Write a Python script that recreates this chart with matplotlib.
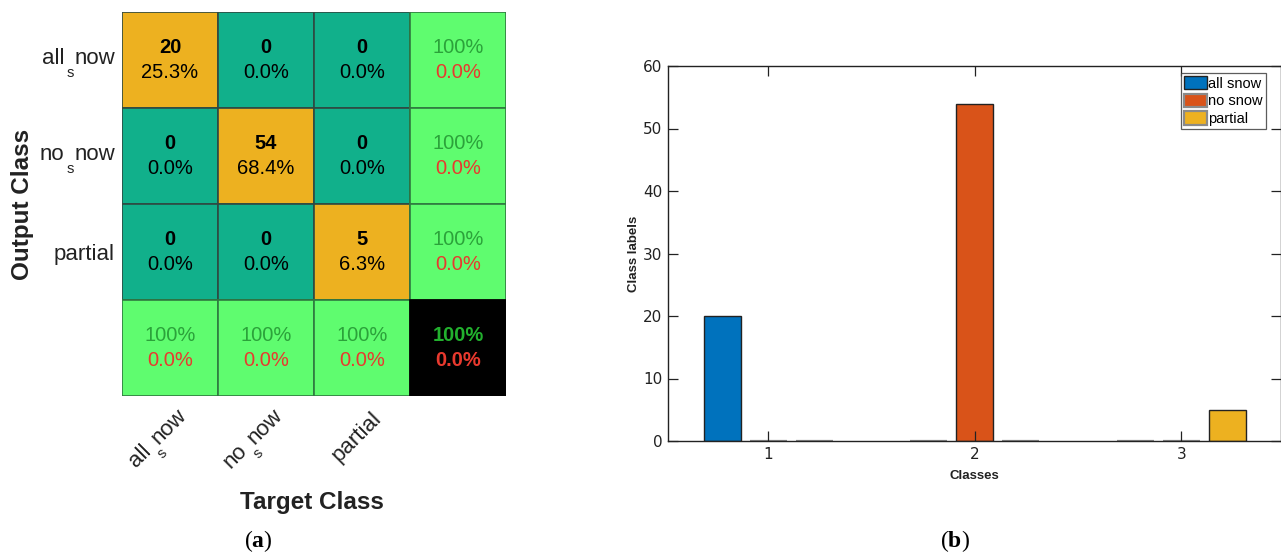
import numpy as np
import matplotlib
matplotlib.use("Agg")
import matplotlib.pyplot as plt
from matplotlib.patches import Rectangle
from matplotlib.transforms import IdentityTransform

# ---- data ----
class_names = ["all_snow", "no_snow", "partial"]
confusion = [[20, 0, 0],
             [0, 54, 0],
             [0, 0, 5]]
series_labels = ["all snow", "no snow", "partial"]
series_all_snow = [20, 0, 0]
series_no_snow = [0, 54, 0]
series_partial = [0, 0, 5]
bar_categories = [1, 2, 3]

plt.rcParams["mathtext.fontset"] = "custom"
plt.rcParams["mathtext.rm"] = "Liberation Serif"
plt.rcParams["mathtext.bf"] = "Liberation Serif:bold"

SANS = ["Liberation Sans", "DejaVu Sans"]

W, H = 1281, 554
DPI = 100
fig = plt.figure(figsize=(W / DPI, H / DPI), dpi=DPI)
renderer = fig.canvas.get_renderer()


def box(x0, y0, x1, y1):
    return [x0 / W, 1 - y1 / H, (x1 - x0) / W, (y1 - y0) / H]


def text_width(s, fs):
    t = fig.text(0, 0, s, fontsize=fs, family=SANS)
    w = t.get_window_extent(renderer).width
    t.remove()
    return w


def sub_label(name, x_img, y_img, theta, fs, color="#222222"):
    """Draw a TeX-style label where '_' puts the next character in subscript.
    (x_img, y_img) is the right end / vertical middle, in pixels from the top-left."""
    if "_" in name:
        a, b = name.split("_", 1)
        parts = [(a, False), (b[0], True), (b[1:], False)]
    else:
        parts = [(name, False)]
    em = fs * DPI / 72
    sub_fs = 0.66 * fs
    gap = 0.1 * em
    drop = 0.58 * em
    has_sub = any(s for _, s in parts)
    widths = [text_width(p, sub_fs if s else fs) for p, s in parts]
    total = sum(widths) + gap * sum(1 for _, s in parts if s)
    top = 0.72 * em
    bottom = -drop if has_sub else -0.21 * em
    mid = 0.5 * (top + bottom)
    th = np.deg2rad(theta)
    u = np.array([np.cos(th), np.sin(th)])
    p = np.array([-np.sin(th), np.cos(th)])
    anchor = np.array([x_img, H - y_img])
    base_end = anchor - mid * p
    start = base_end - total * u
    pos = 0.0
    for (txt, sub), w in zip(parts, widths):
        if sub:
            pos += gap
        xy = start + pos * u - (drop * p if sub else 0)
        fig.text(xy[0], xy[1], txt, transform=IdentityTransform(), ha="left",
                 va="baseline", rotation=theta, rotation_mode="anchor",
                 fontsize=sub_fs if sub else fs, family=SANS, color=color)
        pos += w


# ---- confusion matrix ----
ORANGE = "#EDB120"
TEAL = "#11B08B"
LGREEN = "#5FFC6F"
GTXT = "#2BA23A"
RTXT = "#E8392E"

cm = np.array(confusion)
n = cm.shape[0]
total = cm.sum()

GX0, GY0, CELL = 122, 12, 96
ax = fig.add_axes(box(GX0, GY0, GX0 + CELL * (n + 1), GY0 + CELL * (n + 1)))
ax.set_xlim(0, n + 1)
ax.set_ylim(n + 1, 0)
ax.axis("off")

edge = "#2F4A42"
for r in range(n):
    for c in range(n):
        fc = ORANGE if r == c else TEAL
        ax.add_patch(Rectangle((c, r), 1, 1, facecolor=fc, edgecolor=edge, lw=1.2))
        ax.text(c + 0.5, r + 0.5 - 0.135, f"{cm[r, c]}", ha="center", va="center",
                fontsize=14.5, fontweight="bold", family=SANS, color="black")
        ax.text(c + 0.5, r + 0.5 + 0.135, f"{100 * cm[r, c] / total:.1f}%", ha="center",
                va="center", fontsize=14.5, family=SANS, color="black")

# row summaries (precision) and column summaries (recall)
for r in range(n):
    prec = 100 * cm[r, r] / cm[r, :].sum()
    ax.add_patch(Rectangle((n, r), 1, 1, facecolor=LGREEN, edgecolor="#2F7A40", lw=1.2))
    ax.text(n + 0.5, r + 0.5 - 0.135, f"{prec:.0f}%", ha="center", va="center",
            fontsize=14.5, family=SANS, color=GTXT)
    ax.text(n + 0.5, r + 0.5 + 0.135, f"{100 - prec:.1f}%", ha="center", va="center",
            fontsize=14.5, family=SANS, color=RTXT)
for c in range(n):
    rec = 100 * cm[c, c] / cm[:, c].sum()
    ax.add_patch(Rectangle((c, n), 1, 1, facecolor=LGREEN, edgecolor="#2F7A40", lw=1.2))
    ax.text(c + 0.5, n + 0.5 - 0.135, f"{rec:.0f}%", ha="center", va="center",
            fontsize=14.5, family=SANS, color=GTXT)
    ax.text(c + 0.5, n + 0.5 + 0.135, f"{100 - rec:.1f}%", ha="center", va="center",
            fontsize=14.5, family=SANS, color=RTXT)
acc = 100 * np.trace(cm) / total
ax.add_patch(Rectangle((n, n), 1, 1, facecolor="black", edgecolor="black", lw=1.2))
ax.text(n + 0.5, n + 0.5 - 0.135, f"{acc:.0f}%", ha="center", va="center",
        fontsize=14.5, fontweight="bold", family=SANS, color="#22B02E")
ax.text(n + 0.5, n + 0.5 + 0.135, f"{100 - acc:.1f}%", ha="center", va="center",
        fontsize=14.5, fontweight="bold", family=SANS, color=RTXT)

# class tick labels
for i, name in enumerate(class_names):
    centre = GY0 + CELL * (i + 0.5)
    sub_label(name, GX0 - 7, centre + 2.2, 0, 16)
    centre_x = GX0 + CELL * (i + 0.5)
    sub_label(name, centre_x + 16, GY0 + CELL * (n + 1) + 19, 45, 16)

fig.text(22 / W, 1 - 204 / H, "Output Class", rotation=90, ha="center", va="center",
         fontsize=17.5, fontweight="bold", family=SANS, color="#222222")
fig.text(312 / W, 1 - 502 / H, "Target Class", ha="center", va="center",
         fontsize=17.5, fontweight="bold", family=SANS, color="#222222")

# ---- grouped bar chart ----
bx = fig.add_axes(box(668, 66, 1281.5, 441))
x = np.array(bar_categories, dtype=float)
width = 0.179
offsets = [-0.222, 0.0, 0.222]
colors = ["#0072BD", "#D95319", "#EDB120"]
all_series = [series_all_snow, series_no_snow, series_partial]
for vals, off, col, lab in zip(all_series, offsets, colors, series_labels):
    bars = bx.bar(x + off, vals, width=width, color=col, edgecolor="#222222", lw=1.0, label=lab)
    for b, v in zip(bars, vals):
        if v == 0:
            b.set_edgecolor("#8A8A8A")
            b.set_linewidth(1.6)

bx.set_xlim(0.515, 3.485)
bx.set_ylim(0, 60)
bx.set_xticks(bar_categories)
bx.set_yticks(np.arange(0, 61, 10))
bx.tick_params(direction="in", length=7, width=0.9, top=True, right=True,
               labelsize=11, colors="#222222", pad=4)
for sp in bx.spines.values():
    sp.set_linewidth(1.0)
    sp.set_color("#222222")
bx.set_xlabel("Classes", fontsize=9.5, fontweight="bold", family=SANS, color="#222222",
              labelpad=6)
bx.set_ylabel("Class labels", fontsize=9.5, fontweight="bold", family=SANS, color="#222222",
              labelpad=2)
leg = bx.legend(loc="upper right", bbox_to_anchor=((1266 - 668) / 613.5, (441 - 73) / 375),
                prop={"family": SANS, "size": 10.5},
                fancybox=False, frameon=True, edgecolor="#333333",
                handlelength=1.55, handleheight=1.05, handletextpad=0.1,
                labelspacing=0.2, borderpad=0.2, borderaxespad=0)
leg.get_frame().set_linewidth(0.9)

# ---- panel captions ----
fig.text(258 / W, 1 - 541 / H, r"($\mathbf{a}$)", ha="center", va="center",
         fontsize=17, family="Liberation Serif")
fig.text(955 / W, 1 - 541 / H, r"($\mathbf{b}$)", ha="center", va="center",
         fontsize=17, family="Liberation Serif")

fig.savefig("out.png", dpi=DPI)
